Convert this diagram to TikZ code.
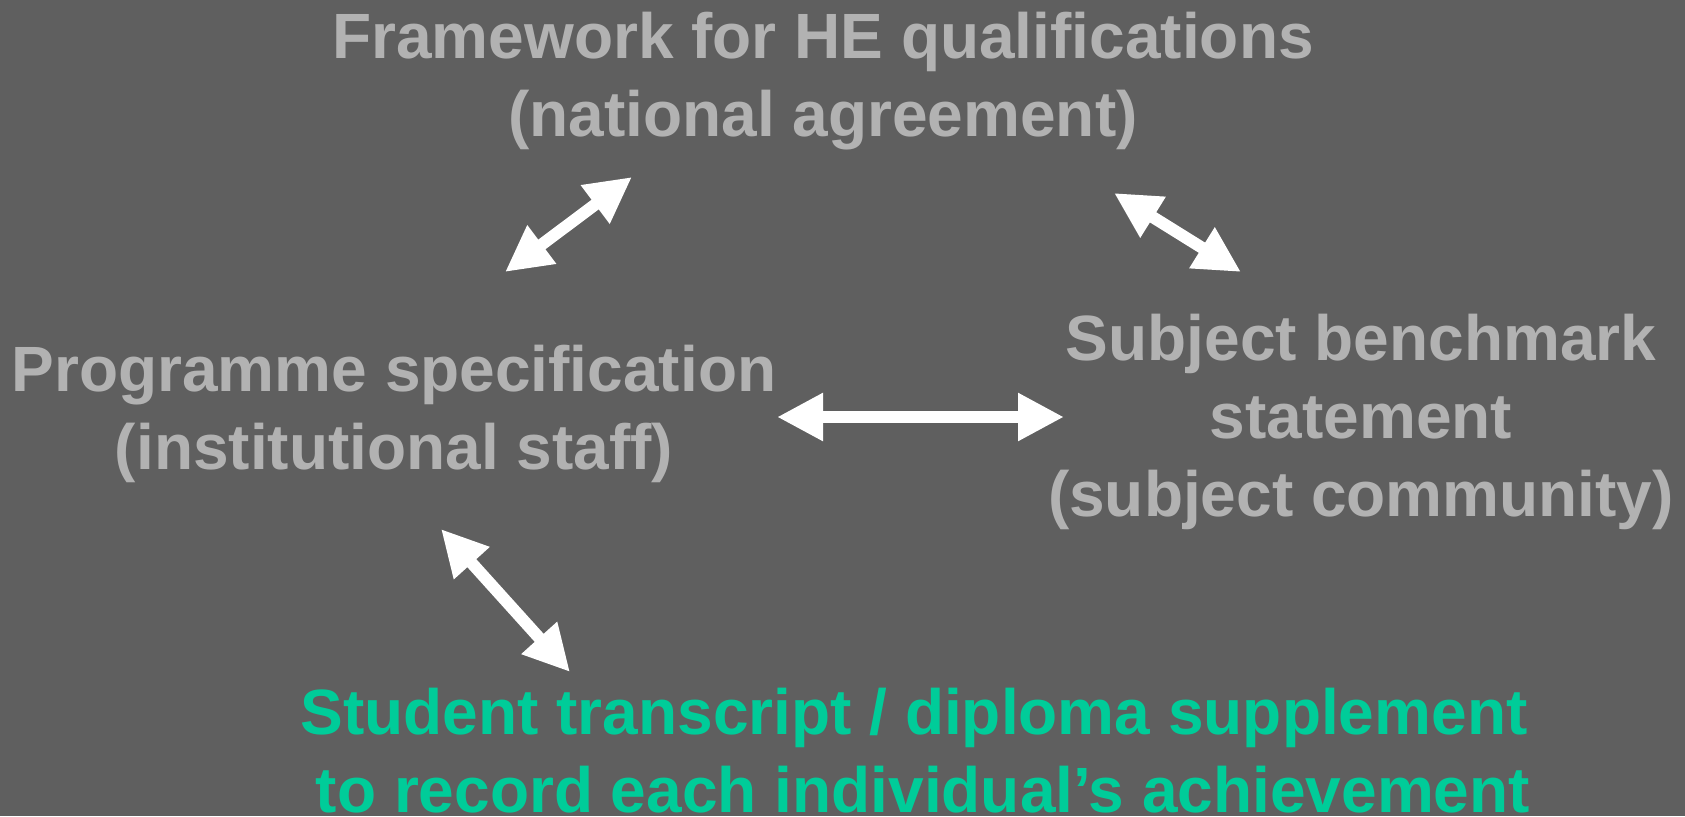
\documentclass[tikz,border=0pt]{standalone}
\usepackage{fontspec}
\setmainfont{Liberation Sans}
\usetikzlibrary{arrows.meta}
\definecolor{bg}{HTML}{5F5F5F}
\definecolor{txtgray}{HTML}{B2B2B2}
\definecolor{txtgreen}{HTML}{00CC99}
\tikzset{
  lbl/.style={align=center, inner sep=0pt, text=txtgray, font=\bfseries\fontsize{64}{78}\selectfont},
  glbl/.style={lbl, text=txtgreen},
  dblarrow/.style={draw=white, line width=12pt, {Triangle[length=46pt,width=45pt]}-{Triangle[length=46pt,width=45pt]}}
}
\begin{document}
\begin{tikzpicture}[x=1pt,y=-1pt]
\fill[bg] (0,0) rectangle (1685,816);
\useasboundingbox (0,0) rectangle (1685,816);
\node[lbl] (fw) at (823,81) {Framework for HE qualifications\\(national agreement)};
\node[lbl] (ps) at (394,414) {Programme specification\\(institutional staff)};
\node[lbl] (sb) at (1361,422) {Subject benchmark\\statement\\(subject community)};
\node[glbl] (st) at (914,751) {Student transcript / diploma supplement\\\ to record each individual’s achievement};
\coordinate (a1) at (505,272);
\coordinate (a2) at (632,177);
\coordinate (b1) at (1114,193);
\coordinate (b2) at (1241,272);
\coordinate (c1) at (777,417);
\coordinate (c2) at (1064,417);
\coordinate (d1) at (441,529);
\coordinate (d2) at (570,672);
\draw[dblarrow] (a1) -- (a2);
\draw[dblarrow] (b1) -- (b2);
\draw[dblarrow] (c1) -- (c2);
\draw[dblarrow] (d1) -- (d2);
\end{tikzpicture}
\end{document}
